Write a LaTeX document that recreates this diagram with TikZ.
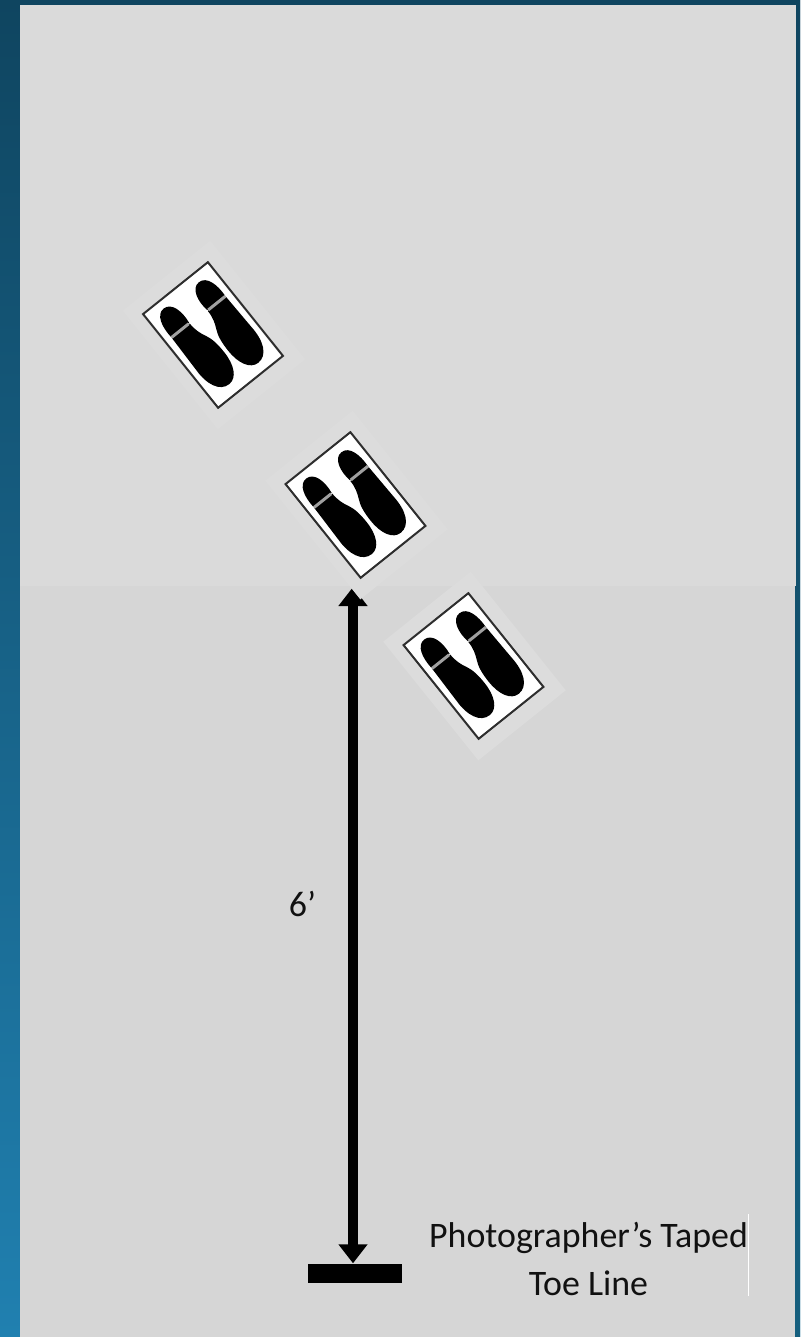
\documentclass[tikz,border=0pt]{standalone}
\usepackage{fontspec}
\setmainfont{Carlito}
\usetikzlibrary{arrows.meta, positioning}
\definecolor{Ink}{HTML}{111111}
\definecolor{SlideTop}{HTML}{0F4560}
\definecolor{SlideLow}{HTML}{2080B0}
\definecolor{SlideEdge}{HTML}{155F7E}
\definecolor{PanelHi}{HTML}{DADADA}
\definecolor{PanelLo}{HTML}{D6D6D6}
\definecolor{Halo}{HTML}{DCDCDC}
\definecolor{Edge}{HTML}{2E2E2E}
\definecolor{Seam}{HTML}{A0A0A0}

\begin{document}
\begin{tikzpicture}[
            x=0.01cm, y=-0.01cm,
            halo/.style={rectangle, fill=Halo, minimum width=1.12cm, minimum height=1.52cm, inner sep=0pt, rotate=38.7},
            mat/.style={rectangle, draw=Edge, line width=0.02cm, fill=white, minimum width=0.83cm, minimum height=1.2cm, inner sep=0pt, rotate=38.7},
            seam/.style={draw=Seam, line width=0.03cm},
            lbl/.style={font=\fontsize{10.2}{13.4}\selectfont, text=Ink, align=center, inner sep=0pt},
            dim/.style={{Triangle[width=0.28cm, length=0.19cm]}-{Triangle[width=0.28cm, length=0.19cm]}, line width=0.1cm, color=black},
            pics/soles/.style={code={
                \foreach \side/\lift in {1/0,-1/1.5} {
                    \begin{scope}[yshift=\lift*0.01cm, xscale=\side, yscale=-1]
                        \fill[black] (11,22) .. controls (11,14) and (9,8) .. (6,2) .. controls (3,-4) and (2,-12) .. (2,-22) .. controls (2,-38) and (8,-50) .. (18,-50) .. controls (30,-50) and (36,-36) .. (35,-18) -- (34,22) -- cycle;
                        \fill[black] (11,23) .. controls (9,36) and (12,50) .. (22,50) .. controls (32,50) and (35,36) .. (34,23) -- cycle;
                        \draw[seam] (12,22.5) -- (34,22.5);
                    \end{scope}
                }
            }}
        ]
            % Slide and panel
            \shade[top color=SlideTop, bottom color=SlideLow] (0,0) rectangle (800,1337);
            \shade[top color=SlideTop, bottom color=SlideEdge] (780,0) rectangle (800,1337);
            \fill[PanelHi] (20,5) rectangle (796,586);
            \fill[PanelLo] (20,586) rectangle (795,1337);

            % Toe line and distance arrow
            \node[rectangle, fill=black, minimum width=0.94cm, minimum height=0.19cm, inner sep=0pt] (tape) at (355,1273.5) {};
            \coordinate (target) at (353,587);
            \draw[dim] (target) -- (target |- tape.north);

            % Three foot marks
            \node[halo] (haloA) at (214,335) {};
            \node[mat] (matA) at (213,335) {};
            \pic[rotate=38.7] at (matA) {soles};

            \node[halo] (haloB) at (356.5,505) {};
            \node[mat] (matB) at (355.5,505) {};
            \pic[rotate=38.7] at (matB) {soles};

            \node[halo] (haloC) at (474.5,666) {};
            \node[mat] (matC) at (473.5,666) {};
            \pic[rotate=38.7] at (matC) {soles};

            % Labels
            \node[lbl] (dist) at (302.5,904) {6’};
            \node[lbl] (toe) at (588.5,1259) {Photographer’s Taped\\Toe Line};
            \draw[white, line width=0.004cm] (748,1214) -- (748,1296);
        \end{tikzpicture}
\end{document}
